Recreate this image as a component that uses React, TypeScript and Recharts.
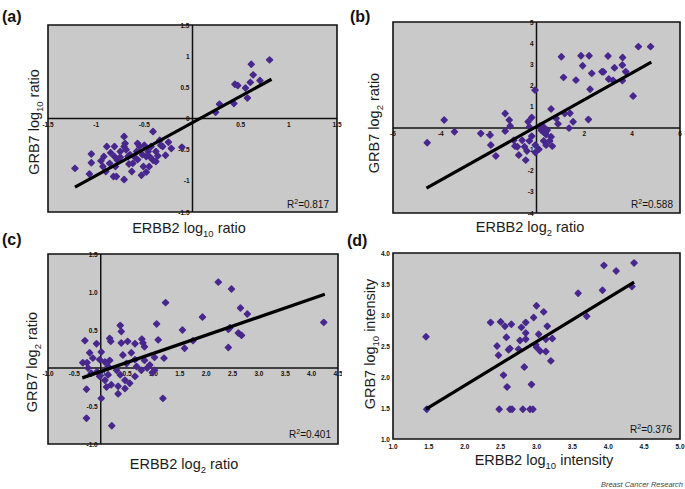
import React from 'react';
import { ScatterChart, Scatter, XAxis, YAxis, CartesianGrid, ReferenceArea, ReferenceLine, ReferenceDot } from 'recharts';

// (a) ERBB2 vs GRB7 log10 ratio
const aErbb2 = [0.80, 0.61, 0.63, 0.44, 0.47, 0.55, 0.60, 0.70, 0.57, 0.43, 0.28, 0.24, -0.11,
  -1.22, -1.07, -1.05, -1.05, -0.92, -0.89, -0.86, -0.81, -0.81, -0.75, -0.71, -0.71, -0.67, -0.82, -0.79, -0.71, -0.63, -0.62, -0.58, -0.55,
  -0.57, -0.51, -0.48, -0.46, -0.43, -0.41, -0.38, -0.34, -0.31, -0.28, -0.41, -0.53, -0.93, -0.45, -0.50, -0.78, -0.65, -0.80, -0.38, -0.33,
  -0.75, -0.69, -0.60, -0.52, -0.85, -0.95, -0.66, -0.44, -0.70, -0.57, -0.90, -0.48, -0.36, -0.22, -0.25];
const aGrb7 = [0.94, 0.87, 0.70, 0.55, 0.53, 0.49, 0.58, 0.61, 0.33, 0.24, 0.23, 0.10, -0.46,
  -0.80, -0.89, -0.57, -0.71, -0.61, -0.45, -0.72, -0.45, -0.61, -0.53, -0.29, -0.45, -0.61, -0.93, -0.93, -0.98, -0.85, -0.72, -0.53, -0.45,
  -0.66, -0.77, -0.61, -0.53, -0.45, -0.67, -0.53, -0.35, -0.45, -0.59, -0.21, -0.91, -0.77, -0.77, -0.43, -0.67, -0.58, -0.77, -0.69, -0.43,
  -0.62, -0.50, -0.62, -0.58, -0.55, -0.68, -0.73, -0.62, -0.40, -0.40, -0.85, -0.86, -0.60, -0.48, -0.38];
const aFitX = [-1.22, 0.82];
const aFitY = [-1.1, 0.63];
const aTicksX = [-1.5, -1, -0.5, 0.5, 1, 1.5];
const aTicksY = [1.5, 1, 0.5, 0, -0.5, -1, -1.5];

// (b) ERBB2 vs GRB7 log2 ratio
const bErbb2 = [-4.57, -3.86, -3.43, -2.33, -1.94, -1.91, -1.70, -1.31, -1.31, -1.14, -1.10, -0.06,
  0.61, 1.18, 1.40, 0.82, 0.90, 1.53, 2.17, 1.36, 0.61, 0.66, 0.30,
  1.04, 1.13, 1.65, 1.86, 1.93, 2.20, 2.31, 2.24, 2.74, 2.80, 2.99, 3.02, 3.26, 3.20, 3.60, 3.59, 3.59, 3.73, 4.04, 4.26, 4.77,
  -0.95, -0.80, -0.60, -0.50, -0.74, -0.45, -0.40, -0.30, -0.20, -0.05, 0.10, 0.30, 0.40, 0.20, 0.45, -0.35, -0.20, -0.30, 0.15, 0.30, -0.90, -0.05, 0.40, 0.55];
const bGrb7 = [-0.69, 0.38, -0.17, -0.25, -0.33, -0.80, -1.31, 0.69, -0.14, 0.38, 0.10, 1.79,
  0.90, 0.69, 0.70, 0.46, 0.20, 0.30, 0.41, 0.00, -0.41, -0.85, -0.20,
  3.36, 2.39, 2.26, 3.41, 2.94, 3.41, 2.58, 1.83, 2.66, 2.65, 3.40, 2.31, 2.84, 2.25, 3.33, 2.97, 2.24, 2.66, 1.51, 3.84, 3.84,
  -0.57, -0.88, -0.57, -0.88, -1.27, -1.51, -1.08, -0.60, -0.38, -0.80, -1.00, -0.60, -0.30, -0.10, -0.10, 0.30, 0.50, 0.05, 0.10, 0.05, -0.85, -1.15, -0.80, -0.60];
const bFitX = [-4.6, 4.8];
const bFitY = [-2.83, 3.11];
const bTicksX = [-6, -4, -2, 2, 4, 6];
const bTicksY = [5, 4, 3, 2, 1, -1, -2, -3, -4];

// (c) ERBB2 vs GRB7 log2 ratio
const cErbb2 = [2.23, 2.48, 1.23, 2.65, 2.78, 1.93, 1.06, 4.23, 1.55, 1.09, 1.75, 2.42, 2.45, 2.61, 2.67, 1.59, 2.42, 1.02, 1.20, 0.93, 0.98, 1.18,
  0.37, 0.39, -0.30, -0.08, 0.17, 0.19, 0.39, 0.51, 0.65, 0.78, 0.80, 0.83, -0.21, 0.01, -0.15, -0.02, 0.08, 0.17, -0.34, 0.14,
  0.42, 0.58, 0.65, 0.49, 0.83, 0.68, 0.77, 0.88, 1.02, -0.24, -0.18, -0.07, -0.02, 0.08, 0.14, 0.30, 0.37, 0.46, 0.55, 0.65,
  0.20, 0.33, 0.11, 0.46, -0.27, 0.33, 0.01, -0.27, 0.21, -0.26];
const cGrb7 = [1.13, 1.04, 0.86, 0.79, 0.71, 0.67, 0.58, 0.60, 0.50, 0.37, 0.36, 0.51, 0.53, 0.46, 0.43, 0.26, 0.27, 0.14, 0.13, 0.04, -0.06, -0.40,
  0.56, 0.48, 0.36, 0.32, 0.39, 0.35, 0.33, 0.35, 0.32, 0.38, 0.33, 0.28, 0.20, 0.21, 0.13, 0.11, 0.08, 0.10, 0.07, 0.02,
  0.17, 0.20, 0.11, 0.06, 0.10, 0.02, -0.03, 0.00, -0.03, 0.00, -0.07, -0.05, -0.11, -0.16, -0.09, -0.03, -0.09, -0.16, -0.20, -0.11,
  -0.22, -0.24, -0.25, -0.27, -0.28, -0.34, -0.40, -0.66, -0.76, 0.07];
const cFitX = [-0.35, 4.25];
const cFitY = [-0.13, 0.97];
const cTicksX = [-1, -0.5, 0, 0.5, 1, 1.5, 2, 2.5, 3, 3.5, 4, 4.5];
const cTicksY = [1.5, 1, 0.5, -0.5, -1];

// (d) ERBB2 vs GRB7 log10 intensity
const dErbb2 = [1.46, 4.36, 3.94, 4.11, 4.33, 3.92, 3.58, 3.70, 3.00, 3.10, 2.36, 2.50, 2.56, 2.65, 2.85, 2.96, 2.79, 3.15, 2.58, 2.85,
  3.03, 2.77, 2.85, 3.13, 3.22, 2.45, 2.47, 2.61, 2.63, 2.75, 2.99, 3.00, 3.05, 3.13, 3.20, 2.83, 2.54, 2.59, 2.93, 2.48,
  2.63, 2.66, 2.81, 2.91, 2.95, 1.47];
const dGrb7 = [2.65, 3.84, 3.80, 3.71, 3.46, 3.40, 3.35, 2.98, 3.15, 3.05, 2.88, 2.89, 2.82, 2.85, 2.88, 2.96, 2.80, 2.82, 2.64, 2.71,
  2.69, 2.59, 2.61, 2.61, 2.62, 2.50, 2.35, 2.44, 2.46, 2.45, 2.52, 2.48, 2.42, 2.41, 2.26, 2.16, 2.03, 1.84, 1.88, 1.48,
  1.48, 1.48, 1.48, 1.48, 1.48, 1.48];
const dFitX = [1.46, 4.36];
const dFitY = [1.48, 3.53];
const dTicksX = [1, 1.5, 2, 2.5, 3, 3.5, 4, 4.5, 5];
const dTicksY = [4, 3.5, 3, 2.5, 2, 1.5, 1];

const BG = '#c9c9c9';
const PURPLE = '#48288c';
const FONT = 'Arial, "Liberation Sans", sans-serif';

const zip = (xs: number[], ys: number[]) => xs.map((x, i) => ({ x, y: ys[i] }));

const Diamond = (p: any) => {
  const { cx, cy } = p;
  const s = 2.9;
  return (
    <path
      d={`M${cx},${cy - s}L${cx + s},${cy}L${cx},${cy + s}L${cx - s},${cy}Z`}
      fill={PURPLE}
      stroke={PURPLE}
      strokeWidth={1.6}
      strokeLinejoin="round"
    />
  );
};

const tickStyle = { fontSize: 6.5, fontWeight: 700, fill: '#111', fontFamily: FONT };

function Panel(props: any) {
  const { left, top, width, height, margin, xDomain, yDomain, xs, ys, fitX, fitY, xTicks, yTicks, xAt, yAt, fmt, cross } = props;
  const dx = cross ? 8 : 10;
  return (
    <div style={{ position: 'absolute', left, top }}>
      <ScatterChart width={width} height={height} margin={margin}>
        <CartesianGrid horizontal={false} vertical={false} fill={BG} fillOpacity={1} />
        <XAxis type="number" dataKey="x" domain={xDomain} hide allowDataOverflow />
        <YAxis type="number" dataKey="y" domain={yDomain} hide allowDataOverflow />
        {cross && <ReferenceLine x={0} stroke="#111" strokeWidth={1.5} />}
        {cross && <ReferenceLine y={0} stroke="#111" strokeWidth={1.5} />}
        {xTicks.map((v: number) => (
          <ReferenceDot key={'x' + v} x={v} y={xAt} r={0} ifOverflow="visible"
            shape={(p: any) => <text x={p.cx} y={p.cy + dx} textAnchor="middle" {...tickStyle}>{fmt(v)}</text>} />
        ))}
        {yTicks.map((v: number) => (
          <ReferenceDot key={'y' + v} x={yAt} y={v} r={0} ifOverflow="visible"
            shape={(p: any) => <text x={p.cx - 3} y={p.cy + 2.5} textAnchor="end" {...tickStyle}>{fmt(v)}</text>} />
        ))}
        <Scatter data={zip(xs, ys)} shape={Diamond} isAnimationActive={false} />
        <Scatter data={zip(fitX, fitY)} line={{ stroke: '#000', strokeWidth: 3.2 }} shape={() => <g />} isAnimationActive={false} />
        <ReferenceArea x1={xDomain[0]} x2={xDomain[1]} y1={yDomain[0]} y2={yDomain[1]} fill="none" stroke="#111" strokeWidth={1.6} />
      </ScatterChart>
    </div>
  );
}

const fmtPlain = (v: number) => String(v);
const fmtOne = (v: number) => v.toFixed(1);

const titleStyle = { fontSize: 14.5, fill: '#1c1c1c', fontFamily: FONT };

function Title({ x, y, pre, sub, post, rotate }: any) {
  const transform = rotate ? `translate(${x},${y}) rotate(-90)` : `translate(${x},${y})`;
  return (
    <text transform={transform} textAnchor="middle" {...titleStyle}>
      {pre}
      <tspan dy={4} fontSize={9.5}>{sub}</tspan>
      <tspan dy={-4}>{post}</tspan>
    </text>
  );
}

function R2({ x, y, value }: any) {
  return (
    <text x={x} y={y} textAnchor="end" fontSize={10} fill="#111" fontFamily={FONT}>
      R<tspan dy={-4} fontSize={7}>2</tspan><tspan dy={4}>={value}</tspan>
    </text>
  );
}

export default function App() {
  return (
    <div style={{ position: 'absolute', left: 0, top: 0, width: 685, height: 489, background: '#fff' }}>
      <Panel left={0} top={0} width={342} height={240} margin={{ top: 25, left: 48, right: 5, bottom: 28 }}
        xDomain={[-1.5, 1.5]} yDomain={[-1.5, 1.5]} xs={aErbb2} ys={aGrb7} fitX={aFitX} fitY={aFitY}
        xTicks={aTicksX} yTicks={aTicksY} xAt={0} yAt={0} fmt={fmtPlain} cross />
      <Panel left={342} top={0} width={343} height={240} margin={{ top: 22, left: 51, right: 5, bottom: 27 }}
        xDomain={[-6, 6]} yDomain={[-4, 5]} xs={bErbb2} ys={bGrb7} fitX={bFitX} fitY={bFitY}
        xTicks={bTicksX} yTicks={bTicksY} xAt={0} yAt={0} fmt={fmtPlain} cross />
      <Panel left={0} top={240} width={342} height={249} margin={{ top: 14, left: 48, right: 4, bottom: 45 }}
        xDomain={[-1, 4.5]} yDomain={[-1, 1.5]} xs={cErbb2} ys={cGrb7} fitX={cFitX} fitY={cFitY}
        xTicks={cTicksX} yTicks={cTicksY} xAt={0} yAt={0} fmt={fmtOne} cross />
      <Panel left={342} top={240} width={343} height={249} margin={{ top: 13, left: 51, right: 5, bottom: 50 }}
        xDomain={[1, 5]} yDomain={[1, 4]} xs={dErbb2} ys={dGrb7} fitX={dFitX} fitY={dFitY}
        xTicks={dTicksX} yTicks={dTicksY} xAt={1} yAt={1} fmt={fmtOne} cross={false} />
      <svg width={685} height={489} style={{ position: 'absolute', left: 0, top: 0, pointerEvents: 'none' }}>
        <text x={2} y={22} fontSize={16} fontWeight={700} fill="#111" fontFamily={FONT}>(a)</text>
        <text x={350} y={22} fontSize={16} fontWeight={700} fill="#111" fontFamily={FONT}>(b)</text>
        <text x={2} y={245} fontSize={16} fontWeight={700} fill="#111" fontFamily={FONT}>(c)</text>
        <text x={347} y={246} fontSize={16} fontWeight={700} fill="#111" fontFamily={FONT}>(d)</text>

        <Title x={189} y={233} pre="ERBB2 log" sub="10" post=" ratio" />
        <Title x={39} y={122} pre="GRB7 log" sub="10" post=" ratio" rotate />
        <Title x={530} y={232} pre="ERBB2 log" sub="2" post=" ratio" />
        <Title x={379} y={123} pre="GRB7 log" sub="2" post=" ratio" rotate />
        <Title x={184} y={469} pre="ERBB2 log" sub="2" post=" ratio" />
        <Title x={37} y={362} pre="GRB7 log" sub="2" post=" ratio" rotate />
        <Title x={544} y={465} pre="ERBB2 log" sub="10" post=" intensity" />
        <Title x={375} y={344} pre="GRB7 log" sub="10" post=" intensity" rotate />

        <R2 x={329} y={208} value="0.817" />
        <R2 x={673} y={208} value="0.588" />
        <R2 x={331} y={438} value="0.401" />
        <R2 x={672} y={433} value="0.376" />

        <text x={683} y={487} textAnchor="end" fontSize={7.5} fontStyle="italic" fill="#444" fontFamily={FONT}>Breast Cancer Research</text>
      </svg>
    </div>
  );
}
